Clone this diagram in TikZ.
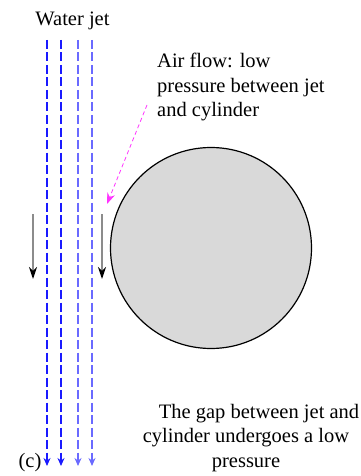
\documentclass[tikz,border=0pt]{standalone}
\usepackage{fontspec}
\setmainfont{Liberation Serif}
\usetikzlibrary{arrows.meta, positioning}
\definecolor{jetblue}{HTML}{1A1AFF}
\definecolor{jetpale}{HTML}{6A6AFF}
\definecolor{cylgray}{HTML}{D9D9D9}
\definecolor{airpink}{HTML}{FF33FF}
\definecolor{pushgray}{HTML}{8C8C8C}

\begin{document}
\begin{tikzpicture}[x=1pt, y=-1pt,
    lbl/.style={font=\fontsize{20.5}{24.5}\selectfont, inner sep=0pt},
    jetline/.style={dash pattern=on 9pt off 3.5pt, line width=1.3pt,
      -{Stealth[length=8pt, width=7pt]}},
    pushline/.style={pushgray, line width=1.3pt,
      -{Stealth[black, length=12pt, width=8pt]}},
    airline/.style={airpink, dash pattern=on 4pt off 3pt, line width=0.8pt,
      -{Stealth[length=11pt, width=8pt]}}]
    \useasboundingbox (0,0) rectangle (361,476);
    % jet
    \foreach \x/\c [count=\i] in {47/jetblue, 61/jetblue, 78/jetpale, 92/jetpale} {
      \coordinate (jt\i) at (\x, 40);
      \coordinate (jb\i) at (\x, 466);
      \draw[jetline, \c] (jt\i) -- (jb\i);
    }
    \node[lbl, anchor=base] (jet) at (72.5, 26) {Water jet};
    % cylinder
    \node[circle, draw, fill=cylgray, line width=1.2pt, minimum size=201pt,
      inner sep=0pt] (cyl) at (211, 248) {};
    % air flow
    \node[lbl, anchor=base west, align=left] (air) at (157, 117)
      {Air flow: low\\pressure between jet\\and cylinder};
    \coordinate (af) at (147, 105);
    \coordinate (at) at (107, 204);
    \draw[airline] (af) -- (at);
    % drag
    \coordinate (p1t) at (33, 214);
    \coordinate (p1b) at (33, 279);
    \coordinate (p2t) at (102, 214);
    \coordinate (p2b) at (102, 279);
    \draw[pushline] (p1t) -- (p1b);
    \draw[pushline] (p2t) -- (p2b);
    % notes
    \node[lbl, anchor=base, align=center] (gap) at (246, 467)
      {\hspace*{26pt}The gap between jet and\\cylinder undergoes a low\\pressure};
    \node[lbl, anchor=base] (tag) at (30, 467) {(c)};
  \end{tikzpicture}
\end{document}
